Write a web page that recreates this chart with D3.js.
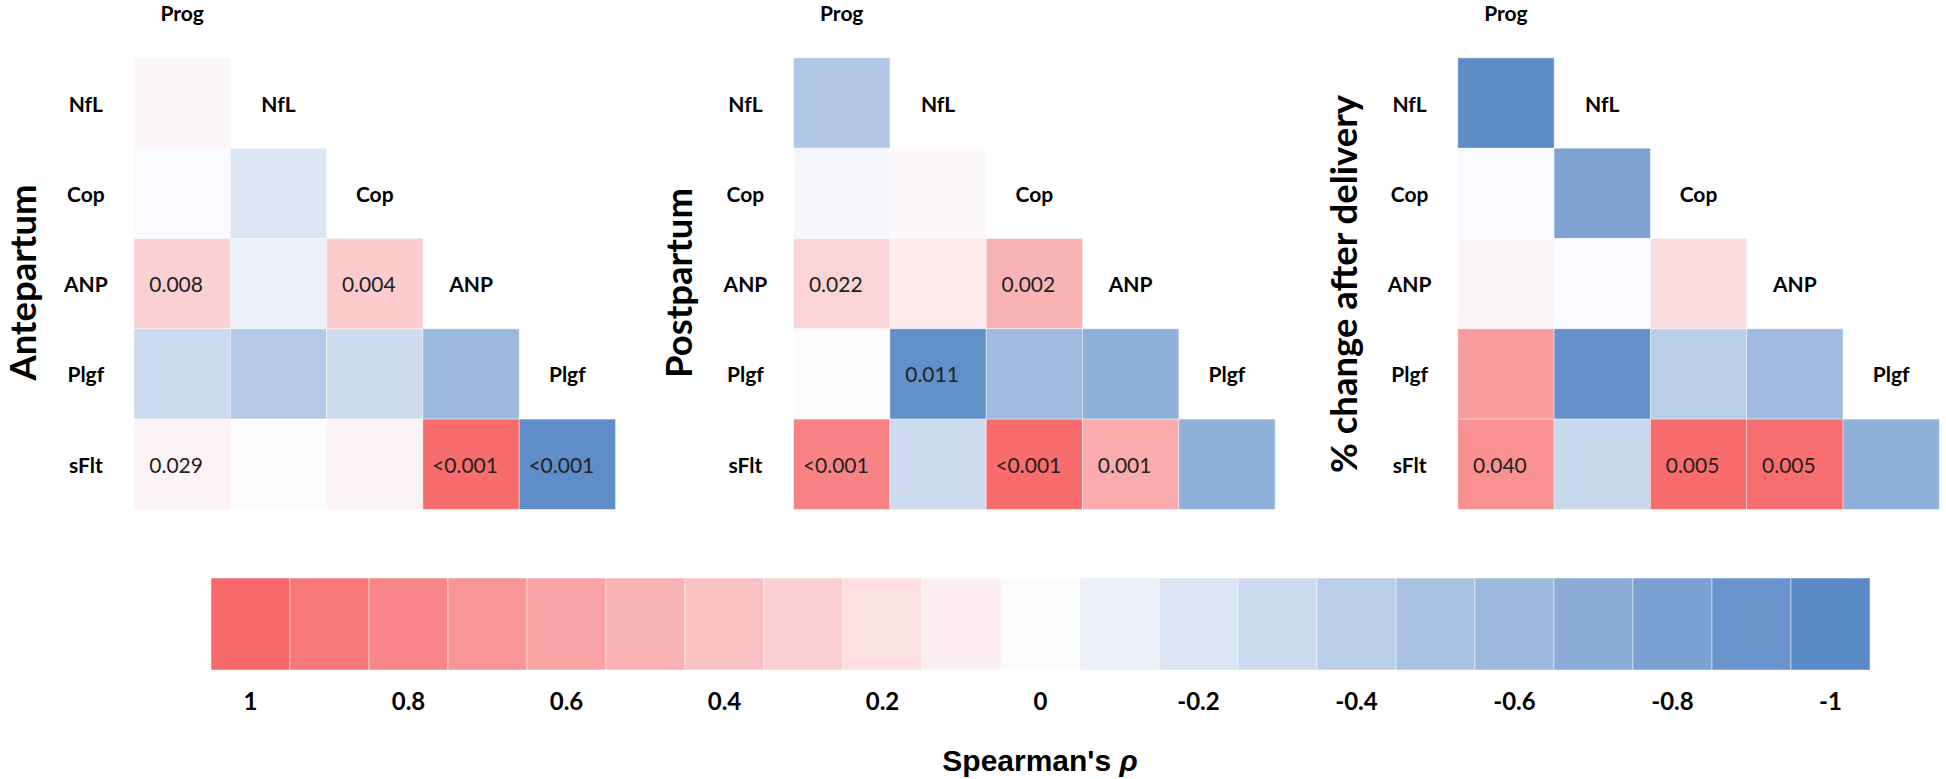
<!DOCTYPE html>
<html><head><meta charset="utf-8">
<script src="https://cdn.jsdelivr.net/npm/d3@7"></script>
<style>html,body{margin:0;padding:0;background:#fff;}</style>
</head><body><svg id="chart" width="1946" height="779"></svg>
<script>
// ---------- data ----------
const variables = ["Prog","NfL","Cop","ANP","Plgf","sFlt"];
const rowVars = ["NfL","Cop","ANP","Plgf","sFlt"];
const colVars = ["Prog","NfL","Cop","ANP","Plgf"];
const panelTitles = ["Antepartum","Postpartum","% change after delivery"];

// lower-triangle Spearman rho, rows NfL..sFlt, columns Prog..(row-1)
const rhoAntepartum = [
  [0.05],
  [-0.01,-0.20],
  [0.30,-0.10,0.33],
  [-0.30,-0.45,-0.28,-0.60],
  [0.06,0.01,0.06,0.98,-0.97]
];
const rhoPostpartum = [
  [-0.47],
  [-0.05,0.03],
  [0.27,0.12,0.50],
  [0.00,-0.95,-0.58,-0.67],
  [0.83,-0.28,0.98,0.55,-0.67]
];
const rhoChange = [
  [-0.98],
  [-0.01,-0.78],
  [0.05,-0.01,0.22],
  [0.67,-0.93,-0.40,-0.57],
  [0.73,-0.32,0.98,0.97,-0.67]
];
const pAntepartum = [
  [""],
  ["",""],
  ["0.008","","0.004"],
  ["","","",""],
  ["0.029","","","<0.001","<0.001"]
];
const pPostpartum = [
  [""],
  ["",""],
  ["0.022","","0.002"],
  ["","0.011","",""],
  ["<0.001","","<0.001","0.001",""]
];
const pChange = [
  [""],
  ["",""],
  ["","",""],
  ["","","",""],
  ["0.040","","0.005","0.005",""]
];
const legendSteps = [1,0.9,0.8,0.7,0.6,0.5,0.4,0.3,0.2,0.1,0,-0.1,-0.2,-0.3,-0.4,-0.5,-0.6,-0.7,-0.8,-0.9,-1];
const legendTicks = [1,0.8,0.6,0.4,0.2,0,-0.2,-0.4,-0.6,-0.8,-1];
const legendTickLabels = ["1","0.8","0.6","0.4","0.2","0","-0.2","-0.4","-0.6","-0.8","-1"];
const legendTitle = "Spearman's ";
const legendSymbol = "ρ";

// ---------- layout ----------
const panels = [
  {title: panelTitles[0], rho: rhoAntepartum, p: pAntepartum, x0: 134.0, tx: 21.5, ty: 282.5},
  {title: panelTitles[1], rho: rhoPostpartum, p: pPostpartum, x0: 793.6, tx: 678, ty: 283},
  {title: panelTitles[2], rho: rhoChange, p: pChange, x0: 1457.8, tx: 1343, ty: 284}
];
const cellW = 96.3;
const rowTop = 57.9, rowH = 90.3;
const font = "Lato, 'Open Sans', sans-serif";

const color = d3.scaleLinear().domain([-1,0,1]).range(["#5A8AC6","#FCFCFF","#F8696B"]);
const svg = d3.select("#chart");

const y = d3.scaleBand().domain(variables).range([rowTop - rowH, rowTop + 5*rowH]);

panels.forEach(pn => {
  const g = svg.append("g");
  const x = d3.scaleBand().domain(["_lab"].concat(colVars))
    .range([pn.x0 - cellW, pn.x0 + 5*cellW]);
  const cells = [];
  rowVars.forEach((rv, i) => {
    pn.rho[i].forEach((v, j) => {
      cells.push({row: rv, col: colVars[j], v: v, p: pn.p[i][j]});
    });
  });
  g.selectAll("rect.cell").data(cells).join("rect")
    .attr("class","cell")
    .attr("x", d => x(d.col)).attr("y", d => y(d.row))
    .attr("width", x.bandwidth()).attr("height", y.bandwidth())
    .attr("fill", d => color(d.v))
    .attr("stroke", "#ffffff").attr("stroke-opacity", 0.5).attr("stroke-width", 0.8);
  g.selectAll("text.pv").data(cells.filter(d => d.p)).join("text")
    .attr("class","pv")
    .attr("x", d => x(d.col) + x.bandwidth()/2 - 6)
    .attr("y", d => y(d.row) + y.bandwidth()/2)
    .attr("text-anchor","middle").attr("dominant-baseline","central")
    .style("font-family", font).style("font-size","21px").style("fill","#222")
    .text(d => d.p);
  // row labels
  g.selectAll("text.rl").data(rowVars).join("text")
    .attr("class","rl")
    .attr("x", x("_lab") + x.bandwidth()/2)
    .attr("y", d => y(d) + y.bandwidth()/2)
    .attr("text-anchor","middle").attr("dominant-baseline","central")
    .style("font-family", font).style("font-size","21px").style("font-weight","700").style("fill","#000")
    .text(d => d);
  // diagonal labels
  g.selectAll("text.dl").data(colVars).join("text")
    .attr("class","dl")
    .attr("x", d => x(d) + x.bandwidth()/2)
    .attr("y", d => y(d) + y.bandwidth()/2)
    .attr("text-anchor","middle").attr("dominant-baseline","central")
    .style("font-family", font).style("font-size","21px").style("font-weight","700").style("fill","#000")
    .text(d => d);
  // title
  g.append("text")
    .attr("transform", `translate(${pn.tx},${pn.ty}) rotate(-90)`)
    .attr("text-anchor","middle").attr("dominant-baseline","central")
    .style("font-family", font).style("font-size","36.5px").style("font-weight","700").style("fill","#000")
    .text(pn.title);
});

// ---------- legend ----------
const lx = d3.scaleBand().domain(legendSteps).range([211, 1870]);
const lg = svg.append("g");
lg.selectAll("rect").data(legendSteps).join("rect")
  .attr("x", d => lx(d)).attr("y", 578)
  .attr("width", lx.bandwidth()).attr("height", 92)
  .attr("fill", d => color(d))
  .attr("stroke","#ffffff").attr("stroke-opacity",0.6).attr("stroke-width",0.8);
lg.selectAll("text.tk").data(legendTicks).join("text")
  .attr("class","tk")
  .attr("x", d => lx(d) + lx.bandwidth()/2)
  .attr("y", 700)
  .attr("text-anchor","middle").attr("dominant-baseline","central")
  .style("font-family", font).style("font-size","24px").style("font-weight","700").style("fill","#000")
  .text((d,i) => legendTickLabels[i]);
const lt = lg.append("text")
  .attr("x", 1040).attr("y", 760)
  .attr("text-anchor","middle").attr("dominant-baseline","central")
  .style("font-family","'Liberation Sans', Arial, sans-serif").style("font-size","30px").style("font-weight","700").style("fill","#000");
lt.append("tspan").text(legendTitle);
lt.append("tspan").style("font-style","italic").text(legendSymbol);
</script>
</body></html>
